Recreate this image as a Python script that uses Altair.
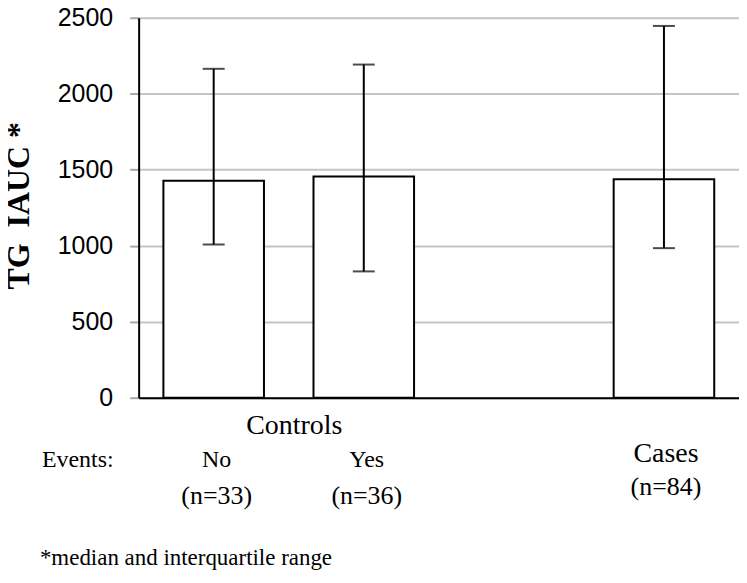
import altair as alt
import pandas as pd

# ---- data ----
groups = ["No", "Yes", "Cases"]
n_labels = ["(n=33)", "(n=36)", "(n=84)"]
medians = [1427, 1455, 1438]
q1 = [1008, 831, 984]
q3 = [2164, 2192, 2446]
y_ticks = [0, 500, 1000, 1500, 2000, 2500]
x_domain = ["No", "Yes", " ", "Cases"]  # blank slot separates controls from cases
notes = ["Controls", "Events:", "*median and interquartile range"]

df = pd.DataFrame({"group": groups, "n": n_labels, "median": medians, "q1": q1, "q3": q3})
ctrl = df[df.group != "Cases"]
cases = df[df.group == "Cases"]
notes_df = pd.DataFrame({"t": notes})

serif = "Liberation Serif"
x_enc = alt.X("group:N", scale=alt.Scale(domain=x_domain, paddingInner=0.33, paddingOuter=0.165),
              axis=alt.Axis(labels=False, ticks=False, title=None, domainColor="black",
                            domainWidth=2, grid=False))
y_scale = alt.Scale(domain=[0, 2500], nice=False)

base = alt.Chart(df)

bars = base.mark_bar(fill="white", stroke="black", strokeWidth=2).encode(
    x=x_enc,
    y=alt.Y("median:Q", scale=y_scale,
            axis=alt.Axis(values=y_ticks, format="d", tickSize=9, tickColor="#a8a8a8", tickWidth=2,
                          domainColor="black", domainWidth=2,
                          labelFont="Liberation Sans", labelFontSize=25, labelColor="black",
                          labelPadding=17,
                          gridColor="#c4c4c4", gridWidth=2,
                          title="TG\u00a0\u00a0IAUC\u00a0*", titleFont=serif, titleFontWeight="bold",
                          titleFontSize=32, titleColor="black", titleAngle=-90,
                          titleX=-110, titleY=188, titleAlign="center",
                          titleBaseline="alphabetic")),
)

err = base.mark_rule(color="black", strokeWidth=2).encode(
    x=alt.X("group:N"), y=alt.Y("q1:Q"), y2="q3:Q")
cap_lo = base.mark_tick(color="black", thickness=2, size=22).encode(
    x=alt.X("group:N"), y=alt.Y("q1:Q"))
cap_hi = base.mark_tick(color="black", thickness=2, size=22).encode(
    x=alt.X("group:N"), y=alt.Y("q3:Q"))

# plot origin is at page (139, 17); all text uses alphabetic baselines
txt = dict(font=serif, color="black", align="center", baseline="alphabetic")
ctrl_name = alt.Chart(ctrl).mark_text(fontSize=24, dx=3, **txt).encode(
    x="group:N", y=alt.value(450), text="group:N")
ctrl_n = alt.Chart(ctrl).mark_text(fontSize=26, dx=3, **txt).encode(
    x="group:N", y=alt.value(488), text="n:N")
case_name = alt.Chart(cases).mark_text(fontSize=28, dx=2, **txt).encode(
    x="group:N", y=alt.value(445), text="group:N")
case_n = alt.Chart(cases).mark_text(fontSize=26, dx=2, **txt).encode(
    x="group:N", y=alt.value(479), text="n:N")

lft = dict(font=serif, color="black", align="left", baseline="alphabetic")
note_c = alt.Chart(notes_df.iloc[[0]]).mark_text(font=serif, fontSize=28, color="black",
                                                 align="center", baseline="alphabetic").encode(
    x=alt.value(156), y=alt.value(417), text="t:N")
note_l = alt.Chart(notes_df.iloc[[1]]).mark_text(fontSize=24, **lft).encode(
    x=alt.value(-97), y=alt.value(450), text="t:N")
note_f = alt.Chart(notes_df.iloc[[2]]).mark_text(fontSize=23, **lft).encode(
    x=alt.value(-99), y=alt.value(549), text="t:N")

chart = alt.layer(bars, err, cap_lo, cap_hi, ctrl_name, ctrl_n, case_name, case_n,
                  note_c, note_l, note_f).properties(
    width=602, height=381,
    autosize=alt.AutoSizeParams(type="none"),
    padding={"left": 131, "top": 9, "right": 0, "bottom": 173},
).configure_view(stroke="#999999", strokeWidth=2).configure(background="white")

chart.save("out.html", embed_options={"renderer": "svg", "actions": False})
